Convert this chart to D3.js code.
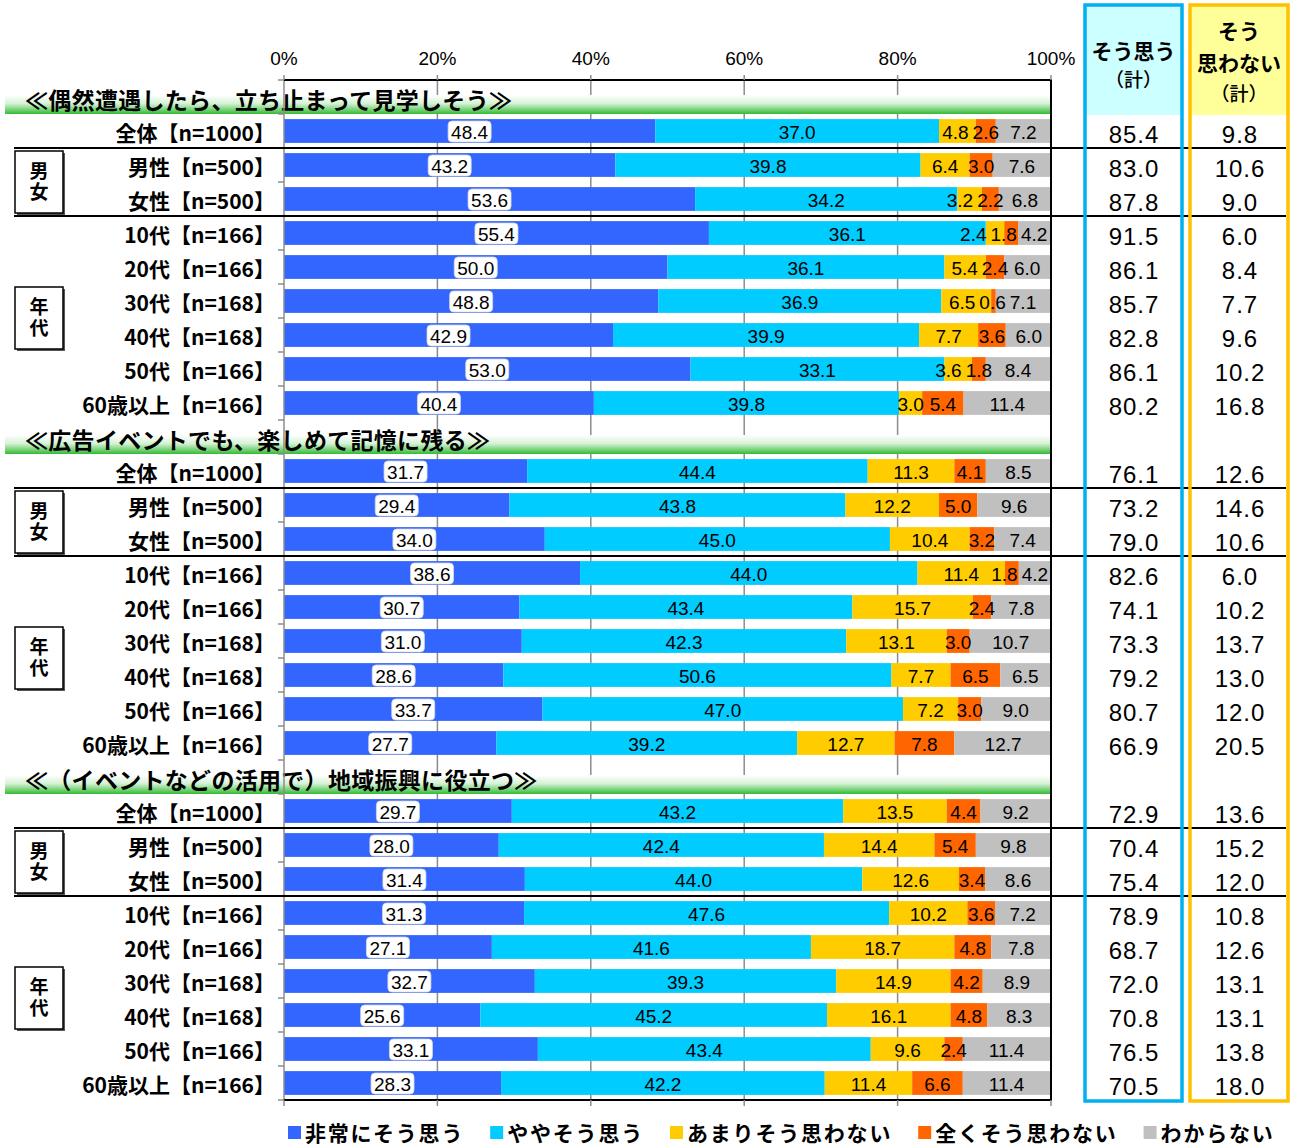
<!DOCTYPE html>
<html><head><meta charset="utf-8">
<script src="https://cdn.jsdelivr.net/npm/d3@7"></script>
<style>
body{margin:0;background:#fff;}
svg{display:block;}
</style></head><body>
<svg id="chart" width="1293" height="1148"></svg>
<script>
// ---------- DATA ----------
const sectionTitles = [
  "≪偶然遭遇したら、立ち止まって見学しそう≫",
  "≪広告イベントでも、楽しめて記憶に残る≫",
  "≪（イベントなどの活用で）地域振興に役立つ≫"
];
const rowLabels = ["全体【n=1000】","男性【n=500】","女性【n=500】","10代【n=166】","20代【n=166】","30代【n=168】","40代【n=168】","50代【n=166】","60歳以上【n=166】"];
const seriesNames = ["非常にそう思う","ややそう思う","あまりそう思わない","全くそう思わない","わからない"];
const seriesColors = ["#3366FF","#00CCFF","#FFCC00","#FF6600","#C0C0C0"];
const tickValues = [0,20,40,60,80,100];
const tickLabels = ["0%","20%","40%","60%","80%","100%"];

const values1 = [
  [48.4,37.0,4.8,2.6,7.2],
  [43.2,39.8,6.4,3.0,7.6],
  [53.6,34.2,3.2,2.2,6.8],
  [55.4,36.1,2.4,1.8,4.2],
  [50.0,36.1,5.4,2.4,6.0],
  [48.8,36.9,6.5,0.6,7.1],
  [42.9,39.9,7.7,3.6,6.0],
  [53.0,33.1,3.6,1.8,8.4],
  [40.4,39.8,3.0,5.4,11.4]
];
const values2 = [
  [31.7,44.4,11.3,4.1,8.5],
  [29.4,43.8,12.2,5.0,9.6],
  [34.0,45.0,10.4,3.2,7.4],
  [38.6,44.0,11.4,1.8,4.2],
  [30.7,43.4,15.7,2.4,7.8],
  [31.0,42.3,13.1,3.0,10.7],
  [28.6,50.6,7.7,6.5,6.5],
  [33.7,47.0,7.2,3.0,9.0],
  [27.7,39.2,12.7,7.8,12.7]
];
const values3 = [
  [29.7,43.2,13.5,4.4,9.2],
  [28.0,42.4,14.4,5.4,9.8],
  [31.4,44.0,12.6,3.4,8.6],
  [31.3,47.6,10.2,3.6,7.2],
  [27.1,41.6,18.7,4.8,7.8],
  [32.7,39.3,14.9,4.2,8.9],
  [25.6,45.2,16.1,4.8,8.3],
  [33.1,43.4,9.6,2.4,11.4],
  [28.3,42.2,11.4,6.6,11.4]
];
const agreeTotals1 = [85.4,83.0,87.8,91.5,86.1,85.7,82.8,86.1,80.2];
const agreeTotals2 = [76.1,73.2,79.0,82.6,74.1,73.3,79.2,80.7,66.9];
const agreeTotals3 = [72.9,70.4,75.4,78.9,68.7,72.0,70.8,76.5,70.5];
const disagreeTotals1 = [9.8,10.6,9.0,6.0,8.4,7.7,9.6,10.2,16.8];
const disagreeTotals2 = [12.6,14.6,10.6,6.0,10.2,13.7,13.0,12.0,20.5];
const disagreeTotals3 = [13.6,15.2,12.0,10.8,12.6,13.1,13.1,13.8,18.0];
const groupBoxLabels = ["男女","年代"];
const groupBoxRows = [[1,2],[3,8]];
const separatorAfterRows = [0,2];
const agreeHeader = ["そう思う","（計）"];
const disagreeHeader = ["そう","思わない","（計）"];

// ---------- BUILD ----------
const valuesBySection = [values1, values2, values3];
const agreeBySection = [agreeTotals1, agreeTotals2, agreeTotals3];
const disagreeBySection = [disagreeTotals1, disagreeTotals2, disagreeTotals3];

const slots = [];
const rows = [];
sectionTitles.forEach((t, s) => {
  slots.push(`h${s}`);
  rowLabels.forEach((lab, i) => {
    const key = `r${s}_${i}`;
    slots.push(key);
    rows.push({key, s, i, label: lab, values: valuesBySection[s][i],
      agree: agreeBySection[s][i], disagree: disagreeBySection[s][i]});
  });
});

const svg = d3.select("#chart");
const JP = "'Noto Sans CJK JP','Noto Sans',sans-serif";
const NUM = "'Liberation Sans Narrow','Liberation Sans',Arial,sans-serif";
const NUMW = "'Liberation Sans',Arial,sans-serif";

const x = d3.scaleLinear().domain([0,100]).range([284,1051]);
const y = d3.scaleBand().domain(slots).range([80,1100]).paddingInner(0.3).paddingOuter(0.15);
const step = y.step();
const slotTop = k => y(k) - y.paddingInner()*step/2;

// defs
const defs = svg.append("defs");
const grad = defs.append("linearGradient").attr("id","gband").attr("x1",0).attr("y1",0).attr("x2",0).attr("y2",1);
grad.append("stop").attr("offset","0%").attr("stop-color","#ffffff");
grad.append("stop").attr("offset","45%").attr("stop-color","#d6f2d6");
grad.append("stop").attr("offset","100%").attr("stop-color","#33bb33");

// right boxes
const boxes = [
  {x0:1085, x1:1182, stroke:"#00B0F0", fill:"#CCFFFF", lines:agreeHeader, ys:[50,78]},
  {x0:1190, x1:1288, stroke:"#FFC000", fill:"#FFFF99", lines:disagreeHeader, ys:[30,62,92]}
];
boxes.forEach(b => {
  svg.append("rect").attr("x",b.x0).attr("y",5).attr("width",b.x1-b.x0).attr("height",110)
    .attr("fill",b.fill);
  b.lines.forEach((t,j) => {
    svg.append("text").attr("x",(b.x0+b.x1)/2).attr("y",b.ys[j]).attr("text-anchor","middle")
      .attr("dominant-baseline","central").attr("font-family",JP)
      .attr("font-weight", t==="（計）"?500:700).attr("font-size", t==="（計）"?19:21)
      .attr("fill","#000").text(t);
  });
});

// gridlines
svg.append("g").selectAll("line").data(tickValues.slice(1,-1)).join("line")
  .attr("x1",d=>x(d)).attr("x2",d=>x(d)).attr("y1",80).attr("y2",1100)
  .attr("stroke","#8c8c8c").attr("stroke-width",1.5);

// section header bands + titles
sectionTitles.forEach((t,s) => {
  const top = slotTop(`h${s}`);
  svg.append("rect").attr("x",5).attr("y",top+15).attr("width",x(100)-5).attr("height",step-15)
    .attr("fill","url(#gband)");
  svg.append("text").attr("x",25).attr("y",top+step/2+2).attr("dominant-baseline","central")
    .attr("font-family",JP).attr("font-weight",700).attr("font-size",23).attr("letter-spacing",0.3)
    .attr("fill","#000").text(t);
});

// stacked bars
const stack = d3.stack().keys([0,1,2,3,4]).value((d,k)=>d.values[k]);
const series = stack(rows);
const barG = svg.append("g");
series.forEach((ser, k) => {
  barG.append("g").selectAll("rect").data(ser).join("rect")
    .attr("x", d => x(d[0])).attr("width", d => x(d[1]) - x(d[0]))
    .attr("y", d => y(d.data.key)).attr("height", y.bandwidth())
    .attr("fill", seriesColors[k]);
});

// axes lines
svg.append("line").attr("x1",284).attr("x2",284).attr("y1",80).attr("y2",1100).attr("stroke","#8c8c8c").attr("stroke-width",1.5);
svg.append("g").selectAll("line").data(d3.range(0,31)).join("line")
  .attr("x1",278).attr("x2",284).attr("y1",k=>80+k*step).attr("y2",k=>80+k*step)
  .attr("stroke","#8c8c8c").attr("stroke-width",1.5);
svg.append("line").attr("x1",x(0)).attr("x2",x(100)).attr("y1",80).attr("y2",80).attr("stroke","#000").attr("stroke-width",2);
svg.append("line").attr("x1",x(100)).attr("x2",x(100)).attr("y1",79).attr("y2",1101).attr("stroke","#000").attr("stroke-width",2);
svg.append("line").attr("x1",x(0)).attr("x2",x(100)).attr("y1",1100).attr("y2",1100).attr("stroke","#000").attr("stroke-width",2);
svg.append("g").selectAll("line").data(tickValues).join("line")
  .attr("x1",d=>x(d)).attr("x2",d=>x(d)).attr("y1",75).attr("y2",80).attr("stroke","#8c8c8c").attr("stroke-width",1.5);
svg.append("g").selectAll("line").data(tickValues).join("line")
  .attr("x1",d=>x(d)).attr("x2",d=>x(d)).attr("y1",1100).attr("y2",1106).attr("stroke","#8c8c8c").attr("stroke-width",1.5);

// top tick labels
svg.append("g").selectAll("text").data(tickValues).join("text")
  .attr("x",d=>x(d)).attr("y",58).attr("text-anchor","middle").attr("dominant-baseline","central")
  .attr("font-family",NUMW).attr("font-size",19).attr("fill","#000").text((d,i)=>tickLabels[i]);

// bar labels
const labG = svg.append("g");
rows.forEach(r => {
  const cy = y(r.key) + y.bandwidth()/2;
  let cum = 0;
  const items = r.values.map((v,k) => { const it = {v,k,c:x(cum+v/2)}; cum += v; return it; });
  items.forEach(it => {
    it.node = labG.append("text").attr("x",it.c).attr("y",cy+1).attr("text-anchor","middle")
      .attr("dominant-baseline","central").attr("font-family",NUM).attr("font-size",19)
      .attr("fill","#000").text(it.v.toFixed(1));
    it.w = it.node.node().getComputedTextLength();
  });
  // resolve overlaps right-to-left
  const last = items[items.length-1];
  last.c = Math.min(last.c, x(100) - last.w/2 - 2);
  for (let k = items.length-2; k >= 1; k--) {
    const right = items[k+1].c - items[k+1].w/2 - 4;
    if (items[k].c + items[k].w/2 > right) items[k].c = right - items[k].w/2;
  }
  items.forEach(it => it.node.attr("x", it.c));
  // white box behind first label
  const f = items[0];
  labG.insert("rect", () => f.node.node())
    .attr("x", f.c - f.w/2 - 3).attr("y", cy - 10).attr("width", f.w + 6).attr("height", 21)
    .attr("rx", 4).attr("fill","#fff").attr("stroke","#d8d8d8").attr("stroke-width",0.8);
});

// row labels
svg.append("g").selectAll("text").data(rows).join("text")
  .attr("x",275).attr("y",d=>y(d.key)+y.bandwidth()/2+1).attr("text-anchor","end")
  .attr("dominant-baseline","central").attr("font-family",JP).attr("font-weight",700)
  .attr("font-size",21).attr("fill","#000").text(d=>d.label);

// group boxes
sectionTitles.forEach((t,s) => {
  groupBoxLabels.forEach((lab,g) => {
    const [a,b] = groupBoxRows[g];
    const top = slotTop(`r${s}_${a}`), bot = slotTop(`r${s}_${b}`) + step;
    const cyc = (top+bot)/2, h = 62, w = 48;
    svg.append("rect").attr("x",17).attr("y",cyc-h/2+2).attr("width",w).attr("height",h).attr("fill","#555");
    svg.append("rect").attr("x",15).attr("y",cyc-h/2).attr("width",w).attr("height",h)
      .attr("fill","#fff").attr("stroke","#000").attr("stroke-width",1.5);
    svg.append("text").attr("x",15+w/2).attr("y",cyc).attr("text-anchor","middle")
      .attr("writing-mode","vertical-rl").attr("letter-spacing",2)
      .attr("font-family",JP).attr("font-weight",700)
      .attr("font-size",19).attr("fill","#000").text(lab);
  });
  // separators
  separatorAfterRows.forEach(ri => {
    const yy = slotTop(`r${s}_${ri}`) + step;
    svg.append("line").attr("x1",14).attr("x2",1286).attr("y1",yy).attr("y2",yy)
      .attr("stroke","#000").attr("stroke-width",2);
  });
});

// right box borders (on top)
boxes.forEach(b => {
  svg.append("rect").attr("x",b.x0).attr("y",5).attr("width",b.x1-b.x0).attr("height",1096)
    .attr("fill","none").attr("stroke",b.stroke).attr("stroke-width",3.5);
});

// totals
svg.append("g").selectAll("text").data(rows).join("text")
  .attr("x",1134).attr("y",d=>y(d.key)+y.bandwidth()/2+3).attr("text-anchor","middle")
  .attr("dominant-baseline","central").attr("font-family",NUMW).attr("font-size",24)
  .attr("letter-spacing",1).attr("fill","#000").text(d=>d.agree.toFixed(1));
svg.append("g").selectAll("text").data(rows).join("text")
  .attr("x",1240).attr("y",d=>y(d.key)+y.bandwidth()/2+3).attr("text-anchor","middle")
  .attr("dominant-baseline","central").attr("font-family",NUMW).attr("font-size",24)
  .attr("letter-spacing",1).attr("fill","#000").text(d=>d.disagree.toFixed(1));

// legend
const lg = svg.append("g");
let lx = 288;
seriesNames.forEach((n,k) => {
  lg.append("rect").attr("x",lx).attr("y",1126).attr("width",13).attr("height",13).attr("fill",seriesColors[k]);
  const t = lg.append("text").attr("x",lx+17).attr("y",1132).attr("dominant-baseline","central")
    .attr("font-family",JP).attr("font-weight",700).attr("font-size",21).attr("letter-spacing",1.8)
    .attr("fill","#000").text(n);
  lx += 17 + t.node().getComputedTextLength() + 26;
});
</script>
</body></html>
